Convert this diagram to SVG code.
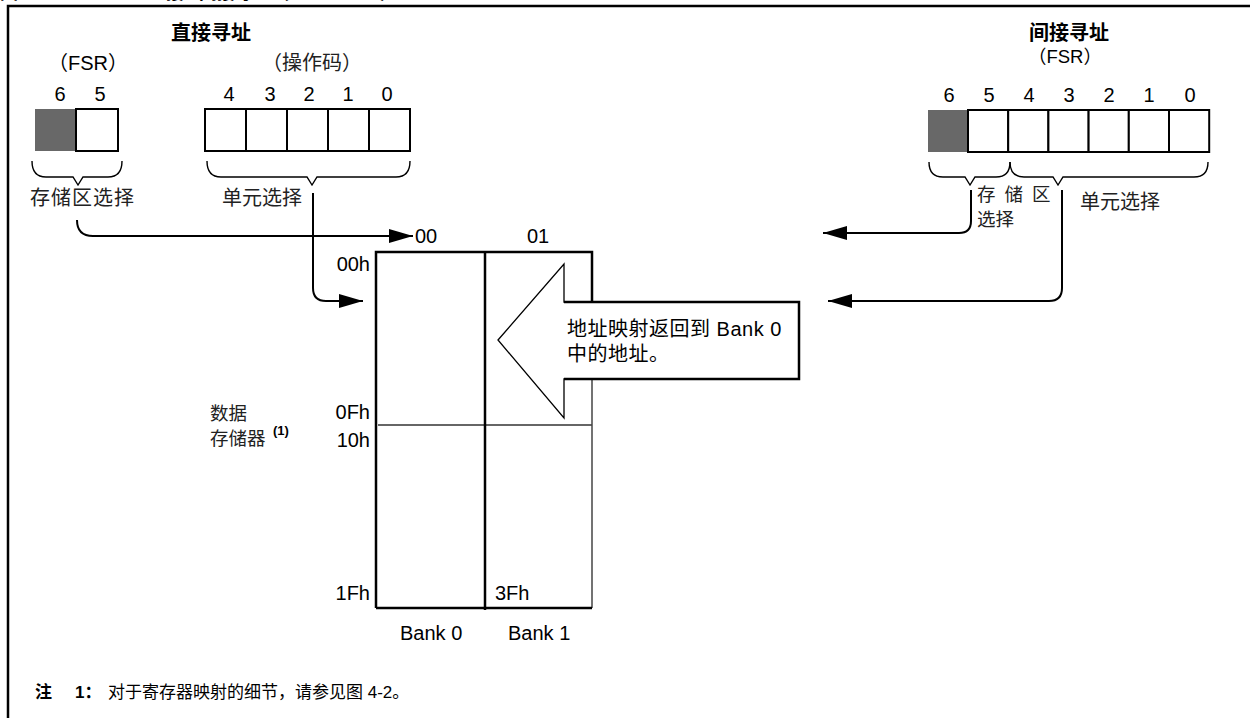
<svg xmlns="http://www.w3.org/2000/svg" width="1250" height="718" viewBox="0 0 1250 718">
<style>
text{font-family:"Liberation Sans","Noto Sans CJK SC",sans-serif;font-size:20px;fill:#000}
.cjk{font-family:"Noto Sans CJK SC",sans-serif;font-size:20px;fill:#222}
.b{font-weight:bold}
.mid{text-anchor:middle}
.end{text-anchor:end}
.box{fill:#fff;stroke:#000;stroke-width:2}
.grey{fill:#686868;stroke:none}
.brace{fill:none;stroke:#000;stroke-width:1.4}
.conn{fill:none;stroke:#000;stroke-width:2}
.note{font-size:17px}
.sm{font-size:18.5px}
</style>
<defs>
<marker id="ah" markerUnits="userSpaceOnUse" markerWidth="26" markerHeight="16" refX="24" refY="7" orient="auto">
<path d="M0,0 L24,7 L0,14 Z" fill="#000"/>
</marker>
</defs>
<rect width="1250" height="718" fill="#fff"/>
<g id="title">
<text class="b" x="0" y="-1" style="font-size:18px">图 4-5：</text>
<text class="b" x="148" y="-1" style="font-size:18px">直接 / 间接寻址（PIC12F509）</text>
</g>
<g id="frame">
<path d="M8,719 L8,6 L1250,6" fill="none" stroke="#000" stroke-width="2.5"/>
</g>
<g id="direct-heading">
<text class="b mid cjk" x="211" y="40" style="fill:#000">直接寻址</text>
<text class="mid" x="88" y="70">（FSR）</text>
<text class="mid cjk" x="312" y="70">（操作码）</text>
</g>
<g id="direct-fsr">
<rect class="grey" x="35" y="109" width="41" height="42"/>
<rect class="box" x="76" y="109" width="42" height="42"/>
<text class="mid" x="60" y="101">6</text>
<text class="mid" x="100" y="101">5</text>
</g>
<g id="direct-opcode">
<rect class="box" x="205" y="109" width="41" height="42"/>
<rect class="box" x="246" y="109" width="41" height="42"/>
<rect class="box" x="287" y="109" width="41" height="42"/>
<rect class="box" x="328" y="109" width="41" height="42"/>
<rect class="box" x="369" y="109" width="41" height="42"/>
<text class="mid" x="229" y="101">4</text>
<text class="mid" x="270" y="101">3</text>
<text class="mid" x="309" y="101">2</text>
<text class="mid" x="348" y="101">1</text>
<text class="mid" x="387" y="101">0</text>
</g>
<g id="direct-braces">
<path class="brace" d="M32,161 Q32,177 46,177 L73,177 L78,185 L83,177 L108,177 Q122,177 122,161"/>
<path class="brace" d="M207,161 Q207,177 221,177 L307,177 L312,185 L317,177 L396,177 Q410,177 410,161"/>
<text class="cjk" x="30" y="205" style="letter-spacing:1px">存储区选择</text>
<text class="cjk" x="222" y="205">单元选择</text>
</g>
<g id="indirect-heading">
<text class="b mid cjk" x="1069" y="40" style="fill:#000">间接寻址</text>
<text class="mid sm" x="1065" y="63">（FSR）</text>
</g>
<g id="indirect-fsr">
<rect class="grey" x="928" y="110" width="40" height="42"/>
<rect class="box" x="968" y="110" width="40.2" height="42"/>
<rect class="box" x="1008.2" y="110" width="40.2" height="42"/>
<rect class="box" x="1048.4" y="110" width="40.2" height="42"/>
<rect class="box" x="1088.6" y="110" width="40.2" height="42"/>
<rect class="box" x="1128.8" y="110" width="40.2" height="42"/>
<rect class="box" x="1169" y="110" width="40.2" height="42"/>
<text class="mid" x="949" y="102">6</text>
<text class="mid" x="989" y="102">5</text>
<text class="mid" x="1029" y="102">4</text>
<text class="mid" x="1069" y="102">3</text>
<text class="mid" x="1109" y="102">2</text>
<text class="mid" x="1149" y="102">1</text>
<text class="mid" x="1190" y="102">0</text>
</g>
<g id="indirect-braces">
<path class="brace" d="M929,162 Q929,177 943,177 L965,177 L970,185 L975,177 L996,177 Q1010,177 1010,162"/>
<path class="brace" d="M1010,162 Q1010,177 1024,177 L1053,177 L1058,185 L1063,177 L1194,177 Q1208,177 1208,162"/>
<text class="cjk sm" x="977" y="201" style="letter-spacing:9px">存储区</text>
<text class="cjk sm" x="977" y="226">选择</text>
<text class="cjk" x="1080" y="209">单元选择</text>
</g>
<g id="connectors">
<path class="conn" d="M77,220 Q77,236 93,236 L413,236" marker-end="url(#ah)"/>
<path class="conn" d="M313,193 L313,288 Q313,301 326,301 L363,301" marker-end="url(#ah)"/>
<path class="conn" d="M971,190 L971,221 Q971,233 959,233 L823,233" marker-end="url(#ah)"/>
<path class="conn" d="M1062,190 L1062,288 Q1062,301 1049,301 L828,301" marker-end="url(#ah)"/>
</g>
<g id="memory">
<line x1="378" y1="425" x2="592" y2="425" stroke="#333" stroke-width="1.5"/>
<path d="M376,608 L376,252 L592,252 L592,302" fill="none" stroke="#000" stroke-width="2.5"/>
<path d="M592,379 L592,608" fill="none" stroke="#444" stroke-width="1.5"/>
<path d="M376,608 L592,608" fill="none" stroke="#000" stroke-width="2.5"/>
<line x1="485" y1="252" x2="485" y2="610" stroke="#000" stroke-width="2.5"/>
<text x="415" y="243">00</text>
<text x="527" y="243">01</text>
<text class="end" x="370" y="271">00h</text>
<text class="end" x="370" y="419">0Fh</text>
<text class="end" x="370" y="447">10h</text>
<text class="end" x="370" y="600">1Fh</text>
<text x="495" y="600">3Fh</text>
<text x="400" y="640">Bank 0</text>
<text x="508" y="640">Bank 1</text>
</g>
<g id="data-memory-label">
<text class="cjk sm" x="210" y="420">数据</text>
<text class="cjk sm" x="210" y="445">存储器</text>
<text class="b" x="273" y="435" style="font-size:13px">(1)</text>
</g>
<g id="callout">
<polygon points="498,340 564,264 564,302 799,302 799,379 564,379 564,418" fill="#fff" stroke="#000" stroke-width="1.3"/>
<path d="M564,302 L799,302 L799,379 L564,379" fill="none" stroke="#000" stroke-width="2.5"/>
<text x="567" y="336" style="letter-spacing:0.5px">地址映射返回到 Bank 0</text>
<text x="567" y="361" style="letter-spacing:0.5px">中的地址。</text>
</g>
<g id="note">
<text class="b note" x="35" y="698">注</text>
<text class="b note" x="75" y="698">1：</text>
<text class="note" x="108" y="698">对于寄存器映射的细节，请参见图 4-2。</text>
</g>
</svg>
